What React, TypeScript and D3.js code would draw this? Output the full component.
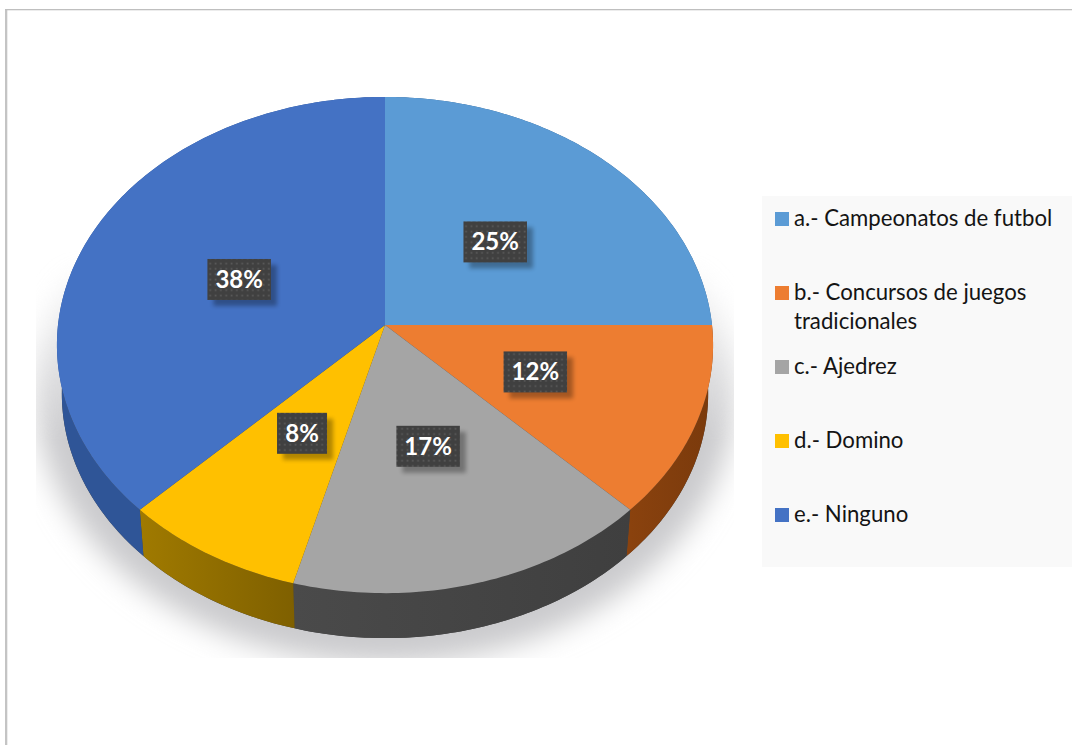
import React from "react";
import * as d3 from "d3";

const categories = [
  "a.- Campeonatos de futbol",
  "b.- Concursos de juegos tradicionales",
  "c.- Ajedrez",
  "d.- Domino",
  "e.- Ninguno",
];
const counts = [6, 3, 4, 2, 9];
const percentLabels = ["25%", "12%", "17%", "8%", "38%"];
const topColors = ["#5b9bd5", "#ed7d31", "#a5a5a5", "#ffc000", "#4472c4"];
const sideColorsA = ["#2f5f8f", "#7a3a0c", "#3f3f3f", "#7f6000", "#2f5597"];
const sideColorsB = ["#2f5f8f", "#8a420e", "#4a4a4a", "#a07a00", "#2f5597"];

const W = 1072;
const H = 745;
const FONT = "Lato, 'Open Sans', sans-serif";

// perspective projection of the pie disc
const cx = 385;
const cy = 325;
const rx = 327;
const ry = 246.5;
const persp = 0.0807;
const depth = 49;
const bottomScale = 0.985;

function project(angle: number, r = 1, s = 1, dy = 0): [number, number] {
  const u = r * Math.sin(angle);
  const v = -r * Math.cos(angle);
  const w = 1 - persp * v;
  return [cx + (s * rx * u) / w, cy + dy + (s * ry * v) / w];
}

const pie = d3.pie<number>().sort(null).value((d) => d);
const arcs = pie(counts);
const line = d3.line();
const color = d3.scaleOrdinal<number, string>().domain(d3.range(5)).range(topColors);

function rim(a0: number, a1: number, s = 1, dy = 0): [number, number][] {
  const n = Math.max(4, Math.ceil((a1 - a0) * 60));
  return d3.range(n + 1).map((i) => project(a0 + ((a1 - a0) * i) / n, 1, s, dy));
}

function topPath(a0: number, a1: number) {
  return line([[cx, cy], ...rim(a0, a1)]) + "Z";
}
function sidePath(a0: number, a1: number) {
  return line([...rim(a0, a1), ...rim(a0, a1, bottomScale, depth).reverse()]) + "Z";
}
const fullBottom = line(rim(0, Math.PI * 2, bottomScale, depth)) + "Z";

const legendRows: { lines: string[]; y: number }[] = [
  { lines: [categories[0]], y: 226 },
  { lines: ["b.- Concursos de juegos", "tradicionales"], y: 300 },
  { lines: [categories[2]], y: 374 },
  { lines: [categories[3]], y: 448 },
  { lines: [categories[4]], y: 522 },
];

export default function App() {
  return (
    <svg
      width={W}
      height={H}
      viewBox={`0 0 ${W} ${H}`}
      style={{ position: "absolute", left: 0, top: 0, background: "#fff" }}
    >
      <defs>
        <filter id="shadowBlur" x="-20%" y="-20%" width="140%" height="140%">
          <feGaussianBlur stdDeviation="14" />
        </filter>
        <linearGradient id="shadowFade" x1="0" y1="250" x2="0" y2="440" gradientUnits="userSpaceOnUse">
          <stop offset="0" stopColor="#fff" stopOpacity="0" />
          <stop offset="1" stopColor="#fff" stopOpacity="1" />
        </linearGradient>
        <mask id="shadowMask" maskUnits="userSpaceOnUse" x="0" y="0" width={W} height={H}>
          <rect x="0" y="0" width={W} height={H} fill="url(#shadowFade)" />
        </mask>
        <clipPath id="shadowClip">
          <rect x="36" y="200" width="698" height="458" />
        </clipPath>
        <pattern id="dots" width="5.33" height="5.33" patternUnits="userSpaceOnUse">
          <rect width="5.33" height="5.33" fill="#404040" />
          <rect x="1.5" y="1.5" width="1.7" height="1.7" fill="#5a5a5a" />
        </pattern>
        <filter id="labelShadow" x="-30%" y="-30%" width="170%" height="170%">
          <feGaussianBlur stdDeviation="2.2" />
        </filter>
        {arcs.map((a, i) => (
          <linearGradient
            key={i}
            id={`side${i}`}
            gradientUnits="userSpaceOnUse"
            x1={Math.min(project(a.startAngle)[0], project(a.endAngle)[0])}
            x2={Math.max(project(a.startAngle)[0], project(a.endAngle)[0])}
            y1="0"
            y2="0"
          >
            <stop offset="0" stopColor={sideColorsB[i]} />
            <stop offset="1" stopColor={sideColorsA[i]} />
          </linearGradient>
        ))}
      </defs>

      {/* outer chart border */}
      <rect x="5" y="9" width="2.3" height={H - 9} fill="#c4c4c4" />
      <rect x="5" y="9" width={W - 5} height="1.3" fill="#bfbfbf" />

      {/* legend background */}
      <rect x="762" y="196" width={W - 762} height="371" fill="#f9f9f9" />

      {/* shadow beneath pie */}
      <g clipPath="url(#shadowClip)">
        <g mask="url(#shadowMask)">
          <ellipse cx="385" cy="392" rx="350" ry="272" fill="#cbcbcd" filter="url(#shadowBlur)" />
        </g>
      </g>

      {/* side walls */}
      <path d={fullBottom} fill="#404040" />
      {arcs.map((a, i) => (
        <path key={i} d={sidePath(a.startAngle, a.endAngle)} fill={`url(#side${i})`} />
      ))}

      {/* top slices */}
      {arcs.map((a, i) => (
        <path key={i} d={topPath(a.startAngle, a.endAngle)} fill={color(i)} />
      ))}

      {/* data labels */}
      {arcs.map((a, i) => {
        const [x, y] = project((a.startAngle + a.endAngle) / 2, 0.49);
        const boxW = percentLabels[i].length === 2 ? 50 : 63.5;
        const boxH = 41;
        return (
          <g key={i}>
            <rect
              x={x - boxW / 2 + 6}
              y={y - boxH / 2 + 6}
              width={boxW}
              height={boxH}
              fill="#000"
              opacity="0.3"
              filter="url(#labelShadow)"
            />
            <rect x={x - boxW / 2} y={y - boxH / 2} width={boxW} height={boxH} fill="url(#dots)" />
            <text
              x={x}
              y={y + 8.5}
              textAnchor="middle"
              fontFamily={FONT}
              fontWeight="700"
              fontSize="24"
              fill="#fff"
            >
              {percentLabels[i]}
            </text>
          </g>
        );
      })}

      {/* legend */}
      {legendRows.map((row, i) => (
        <g key={i}>
          <rect x="775" y={row.y - 14} width="14" height="14" fill={color(i)} />
          {row.lines.map((t, j) => (
            <text
              key={j}
              x="794"
              y={row.y + j * 28.5}
              fontFamily={FONT}
              fontSize="22.2"
              fill="#141414"
            >
              {t}
            </text>
          ))}
        </g>
      ))}
    </svg>
  );
}
